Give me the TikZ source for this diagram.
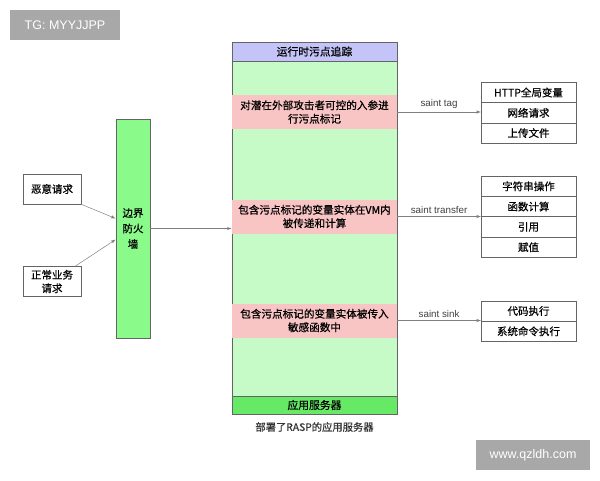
\documentclass[tikz,border=0pt]{standalone}
\usepackage{fontspec}
\setmainfont{Noto Sans CJK SC}[UprightFeatures={FakeBold=0.6}]
\newfontfamily\latinfont{Liberation Sans}
\usetikzlibrary{positioning}

\definecolor{hdrblue}{RGB}{196,196,248}
\definecolor{bodygreen}{RGB}{198,250,198}
\definecolor{taintpink}{RGB}{249,196,196}
\definecolor{srvgreen}{RGB}{102,234,102}
\definecolor{fwgreen}{RGB}{138,250,138}
\definecolor{edgegray}{RGB}{100,100,100}
\definecolor{tagbg}{RGB}{168,168,168}

\tikzset{
  boxline/.style={draw=edgegray, line width=0.7pt},
  cell/.style={boxline, fill=white, minimum width=95, minimum height=20.3, inner sep=0pt, outer sep=0pt, font=\fontsize{10.5}{12}\selectfont},
  band/.style={fill=taintpink, minimum width=165, minimum height=34, inner sep=0pt, align=center, font=\fontsize{10.6}{13.5}\selectfont},
  reqbox/.style={boxline, fill=white, minimum width=58, minimum height=30, inner sep=0pt, align=center, font=\fontsize{10.5}{13.5}\selectfont},
  flow/.style={draw=gray, line width=0.5pt, ->, >=latex},
  flowlabel/.style={above, font=\latinfont\fontsize{9.8}{11}\selectfont, text=black!75, inner sep=3pt},
  stamp/.style={fill=tagbg, text=white, inner sep=0pt, font=\latinfont\fontsize{12.5}{14}\selectfont}
}

\begin{document}
\begin{tikzpicture}[x=1pt,y=-1pt]
  \useasboundingbox (0,0) rectangle (600,480);

  % Top-left tag
  \node[stamp, minimum width=110, minimum height=30] (tg) at (65,25) {TG: MYYJJPP};

  % Application server column
  \node[boxline, fill=bodygreen, minimum width=165, minimum height=372, inner sep=0pt] (body) at (314.5,228) {};
  \node[boxline, fill=hdrblue, minimum width=165, minimum height=19, inner sep=0pt, font=\fontsize{10.8}{12}\selectfont] (hdr) at (314.5,51.5) {运行时污点追踪};
  \node[boxline, fill=srvgreen, minimum width=165, minimum height=18, inner sep=0pt, font=\fontsize{10.8}{12}\selectfont] (srv) at (314.5,405) {应用服务器};
  \node[font=\fontsize{10.3}{12}\selectfont, text=black!80] (caption) at (314.5,427) {部署了RASP的应用服务器};

  % Taint stages
  \node[band] (tagband) at (314.5,112) {对潜在外部攻击者可控的入参进\\行污点标记};
  \node[band] (xferband) at (314.5,216.5) {包含污点标记的变量实体在VM内\\被传递和计算};
  \node[band] (sinkband) at (314.5,320.5) {包含污点标记的变量实体被传入\\敏感函数中};

  % Firewall and requests
  \node[boxline, fill=fwgreen, minimum width=34, minimum height=219, inner sep=0pt, align=center, font=\fontsize{10.5}{15.5}\selectfont] (fw) at (133,228.5) {边界\\防火\\墙};
  \node[reqbox] (evil) at (52,189) {恶意请求};
  \node[reqbox] (normal) at (52,281.5) {正常业务\\请求};
  \draw[flow] (evil.south east) -- ([yshift=10pt]fw.west);
  \draw[flow] ([xshift=-6pt]normal.north east) -- ([yshift=-11pt]fw.west);
  \draw[flow] (fw.east) -- (fw.east -| body.west);

  % Sources
  \node[cell] (http) at (528.5,92.5) {HTTP全局变量};
  \node[cell, below=0pt of http] (net) {网络请求};
  \node[cell, below=0pt of net] (upload) {上传文件};
  \draw[flow] (tagband.east) -- node[flowlabel] {saint tag} (tagband.east -| net.west);

  % Propagation
  \node[cell] (strop) at (528.5,186.3) {字符串操作};
  \node[cell, below=0pt of strop] (func) {函数计算};
  \node[cell, below=0pt of func] (ref) {引用};
  \node[cell, below=0pt of ref] (assign) {赋值};
  \draw[flow] (xferband.east) -- node[flowlabel] {saint transfer} (xferband.east -| func.west);

  % Sinks
  \node[cell] (exec) at (528.5,311) {代码执行};
  \node[cell, below=0pt of exec] (cmd) {系统命令执行};
  \draw[flow] (sinkband.east) -- node[flowlabel] {saint sink} (sinkband.east -| exec.west);

  % Watermark
  \node[stamp, minimum width=114, minimum height=30] (wm) at (533,455) {www.qzldh.com};
\end{tikzpicture}
\end{document}
